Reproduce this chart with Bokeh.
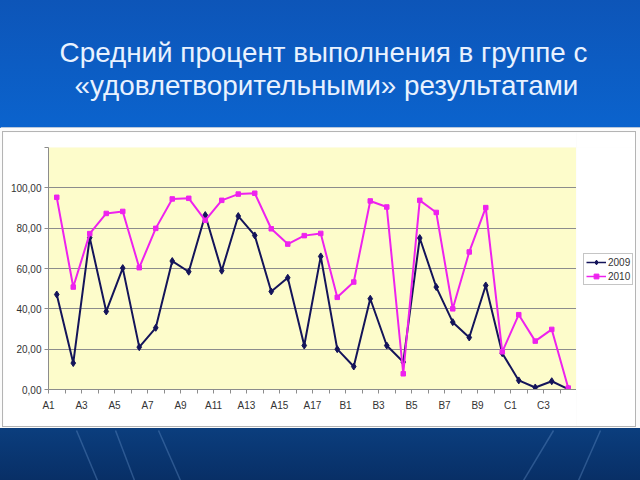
from bokeh.plotting import figure
from bokeh.models import (Range1d, FixedTicker, Legend, LegendItem, ColumnDataSource, Column, Row)
from bokeh.core.properties import value
from bokeh.embed import file_html
from bokeh.resources import INLINE

# ---------------- data ----------------
categories = ([f"A{i}" for i in range(1, 19)] +
              [f"B{i}" for i in range(1, 11)] +
              [f"C{i}" for i in range(1, 5)])

values_2009 = [47.1, 13.1, 75.3, 38.7, 60.2, 21.0, 30.6, 63.7, 58.4, 86.5,
               58.9, 86.0, 76.4, 48.6, 55.4, 21.8, 66.0, 20.0, 11.4, 45.0,
               21.8, 13.6, 75.1, 50.8, 33.4, 25.8, 51.6, 18.0, 4.5, 1.0,
               4.1, 0.2]

values_2010 = [95.3, 50.8, 77.3, 87.3, 88.3, 60.4, 79.9, 94.5, 94.8, 83.9,
               93.8, 96.9, 97.3, 79.7, 72.1, 76.3, 77.4, 45.7, 53.3, 93.5,
               90.5, 7.8, 93.8, 87.8, 40.0, 68.2, 90.2, 18.7, 37.1, 24.0,
               29.8, 0.7]

series_names = ["2009", "2010"]
y_ticks = [0, 20, 40, 60, 80, 100, 120]
y_tick_labels = ["0,00", "20,00", "40,00", "60,00", "80,00", "100,00", ""]
title_lines = ["Средний процент выполнения в группе с",
               "«удовлетворительными» результатами"]

FONT = "Liberation Sans"
navy = "#14145a"
magenta = "#ee22ee"

# ---------------- title band ----------------
top = figure(width=640, height=128, x_range=Range1d(0, 640), y_range=Range1d(128, 0),
             output_backend="svg", toolbar_location=None, min_border=0)
top.axis.visible = False
top.grid.visible = False
top.outline_line_color = None
top.background_fill_alpha = 0
top.border_fill_alpha = 0
top.text(x=[323, 326], y=[52, 84.5], text=title_lines, text_align="center",
         text_baseline="alphabetic", text_font=value(FONT), text_font_size="27.8px",
         text_color="#e9f2ff")
top.segment(x0=[0], y0=[127.5], x1=[640], y1=[127.5], line_color="#b8c8dc", line_width=2)

# ---------------- chart ----------------
xs = [i + 0.5 for i in range(len(categories))]
src = ColumnDataSource(dict(x=xs, y2009=values_2009, y2010=values_2010))

p = figure(frame_width=528, frame_height=242,
           x_range=Range1d(0, len(categories)), y_range=Range1d(0, 120),
           output_backend="svg", toolbar_location=None,
           min_border_left=45, min_border_right=0, min_border_top=15, min_border_bottom=37)
p.background_fill_color = "#fdfccb"
p.border_fill_color = "white"
p.outline_line_color = None

p.xgrid.visible = False
p.ygrid.ticker = FixedTicker(ticks=[20, 40, 60, 80, 100])
p.ygrid.grid_line_color = "#8c8c8c"
p.ygrid.grid_line_width = 1

p.yaxis.ticker = FixedTicker(ticks=y_ticks)
p.yaxis.major_label_overrides = {t: l for t, l in zip(y_ticks, y_tick_labels)}
p.yaxis.major_label_standoff = 3

major_x = list(range(0, len(categories) + 1, 2))
minor_x = list(range(1, len(categories), 2))
p.xaxis.ticker = FixedTicker(ticks=major_x, minor_ticks=minor_x)
p.xaxis.major_label_overrides = {i: (categories[i] if i < len(categories) else "") for i in major_x}
p.xaxis.major_label_standoff = 6

for ax in (p.xaxis, p.yaxis):
    ax.axis_line_color = "#8c8c8c"
    ax.major_tick_line_color = "#8c8c8c"
    ax.minor_tick_line_color = "#8c8c8c"
    ax.major_tick_in = 0
    ax.major_tick_out = 4
    ax.major_label_text_font = FONT
    ax.major_label_text_font_size = "10px"
    ax.major_label_text_color = "#333333"
p.xaxis.minor_tick_in = 0
p.xaxis.minor_tick_out = 4
p.yaxis.minor_tick_line_color = None

p.line("x", "y2009", source=src, line_color=navy, line_width=2)
p.scatter("x", "y2009", source=src, marker="diamond", size=7, fill_color=navy, line_color=navy)
p.line("x", "y2010", source=src, line_color=magenta, line_width=2)
p.scatter("x", "y2010", source=src, marker="square", size=4.5, fill_color=magenta, line_color=magenta)

# ---------------- legend panel (series drawn out of view, only the legend shows) ----------------
lg = figure(width=59, height=294, x_range=Range1d(-100, -99), y_range=Range1d(-100, -99),
            output_backend="svg", toolbar_location=None, min_border=0)
lg.axis.visible = False
lg.grid.visible = False
lg.outline_line_color = None
lg.background_fill_color = "white"
lg.border_fill_color = "white"
e1 = lg.line("x", "y2009", source=src, line_color=navy, line_width=1.5)
m1 = lg.scatter("x", "y2009", source=src, marker="diamond", size=6, fill_color=navy, line_color=navy)
e2 = lg.line("x", "y2010", source=src, line_color=magenta, line_width=1.5)
m2 = lg.scatter("x", "y2010", source=src, marker="square", size=4.5, fill_color=magenta, line_color=magenta)
legend = Legend(items=[LegendItem(label=series_names[0], renderers=[e1, m1]),
                       LegendItem(label=series_names[1], renderers=[e2, m2])],
                location=(7, 104), margin=0, padding=2, spacing=2,
                glyph_width=20, glyph_height=12, label_height=12, label_standoff=2,
                label_text_font=FONT, label_text_font_size="10px", label_text_color="#333333",
                border_line_color="#8c8c8c", background_fill_color="white")
lg.add_layout(legend)

chart_row = Row(children=[p, lg], spacing=0, margin=(4, 5, 2, 3),
                styles={"outline": "1px solid #b4b4b4"})
mid = Column(children=[chart_row], styles={"background-color": "#fbfbfb"})

# ---------------- bottom band ----------------
bot = figure(width=640, height=52, x_range=Range1d(0, 640), y_range=Range1d(52, 0),
             output_backend="svg", toolbar_location=None, min_border=0)
bot.axis.visible = False
bot.grid.visible = False
bot.outline_line_color = None
bot.background_fill_alpha = 0
bot.border_fill_alpha = 0
bot.segment(x0=[76, 115, 158, 553, 600], y0=[2, 2, 2, 2, 2],
            x1=[97, 134, 180, 523, 578], y1=[52, 52, 52, 52, 52],
            line_color="#6f9ad0", line_alpha=0.35, line_width=1.5)

root = Column(children=[top, mid, bot], spacing=0,
              styles={"background": "linear-gradient(180deg, #0d55b8 0%, #0b63cd 26%, #0b3e7e 89%, #082f66 100%)"})

open("out.html", "w").write(file_html(root, INLINE))
